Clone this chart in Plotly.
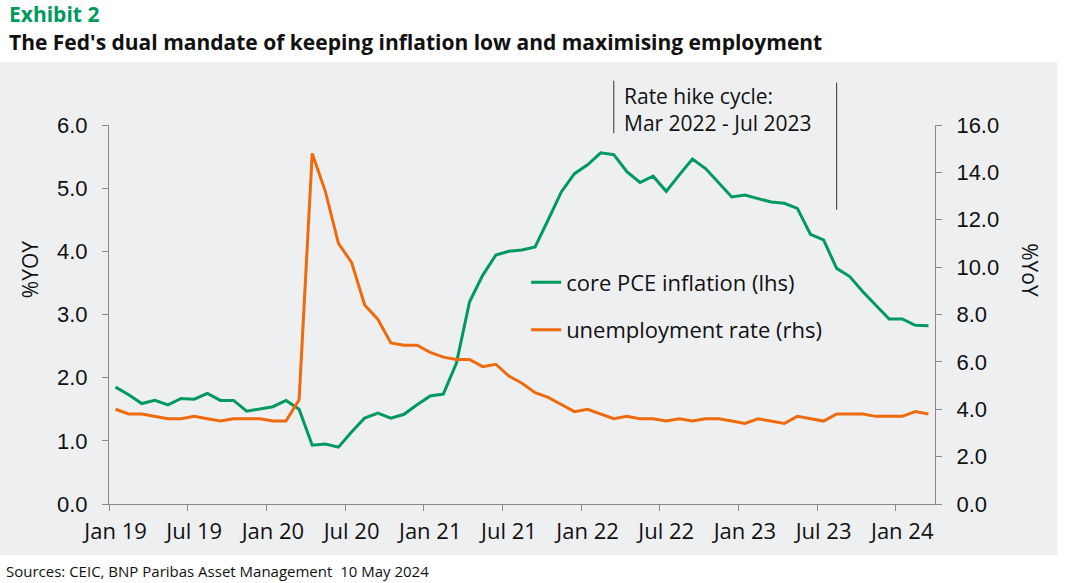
import plotly.graph_objects as go
import pandas as pd

# Monthly categories Jan 2019 - Mar 2024
months = pd.date_range("2019-01-01", "2024-03-01", freq="MS").strftime("%b %y").tolist()

core_pce = [
    1.85, 1.73, 1.59, 1.64, 1.57, 1.67, 1.66, 1.75, 1.64, 1.64, 1.47, 1.50,
    1.54, 1.64, 1.50, 0.93, 0.95, 0.90, 1.14, 1.36, 1.44, 1.36, 1.42, 1.57,
    1.71, 1.74, 2.23, 3.20, 3.62, 3.94, 4.00, 4.02, 4.07, 4.50, 4.94, 5.23,
    5.37, 5.56, 5.53, 5.26, 5.09, 5.19, 4.95, 5.21, 5.46, 5.31, 5.09, 4.86,
    4.89, 4.83, 4.78, 4.76, 4.68, 4.27, 4.18, 3.73, 3.60, 3.36, 3.15, 2.93,
    2.93, 2.83, 2.82,
]

unemployment = [
    4.0, 3.8, 3.8, 3.7, 3.6, 3.6, 3.7, 3.6, 3.5, 3.6, 3.6, 3.6,
    3.5, 3.5, 4.4, 14.8, 13.2, 11.0, 10.2, 8.4, 7.8, 6.8, 6.7, 6.7,
    6.4, 6.2, 6.1, 6.1, 5.8, 5.9, 5.4, 5.1, 4.7, 4.5, 4.2, 3.9,
    4.0, 3.8, 3.6, 3.7, 3.6, 3.6, 3.5, 3.6, 3.5, 3.6, 3.6, 3.5,
    3.4, 3.6, 3.5, 3.4, 3.7, 3.6, 3.5, 3.8, 3.8, 3.8, 3.7, 3.7,
    3.7, 3.9, 3.8,
]

tick_labels = ["Jan 19", "Jul 19", "Jan 20", "Jul 20", "Jan 21", "Jul 21",
               "Jan 22", "Jul 22", "Jan 23", "Jul 23", "Jan 24"]

GREEN = "#009A5E"
ORANGE = "#EE6A0C"
AXIS = "#8a8a8a"
PANEL = "#EEEFF1"
TXT = "Open Sans"

x = list(range(len(months)))
tick_pos = [months.index(t) for t in tick_labels]

fig = go.Figure()

fig.add_trace(go.Scatter(
    x=x, y=core_pce, name="core PCE inflation (lhs)", mode="lines",
    line=dict(color=GREEN, width=3), legendgroup="pce"
))
fig.add_trace(go.Scatter(
    x=x, y=unemployment, name="unemployment rate (rhs)", mode="lines",
    line=dict(color=ORANGE, width=3), yaxis="y2", legendgroup="unemp"
))

# grey panel behind the chart
shapes = [dict(type="rect", xref="paper", yref="paper",
               x0=-0.135, x1=1.148, y0=-0.135, y1=1.166,
               fillcolor=PANEL, line=dict(width=0), layer="below")]

# rate hike cycle markers
shapes.append(dict(type="line", xref="x", yref="paper",
                   x0=months.index("Mar 22"), x1=months.index("Mar 22"),
                   y0=0.978, y1=1.117, line=dict(color="#333333", width=1)))
shapes.append(dict(type="line", xref="x", yref="paper",
                   x0=55, x1=55, y0=0.776, y1=1.112,
                   line=dict(color="#333333", width=1)))

annotations = [
    dict(text="<b>Exhibit 2</b>", xref="paper", yref="paper", x=-0.124, y=1.293,
         xanchor="left", yanchor="middle", showarrow=False,
         font=dict(family=TXT, size=21, color=GREEN)),
    dict(text="<b>The Fed's dual mandate of keeping inflation low and maximising employment</b>",
         xref="paper", yref="paper", x=-0.124, y=1.219,
         xanchor="left", yanchor="middle", showarrow=False,
         font=dict(family=TXT, size=21, color="#111111")),
    dict(text="Sources: CEIC, BNP Paribas Asset Management  10 May 2024",
         xref="paper", yref="paper", x=-0.127, y=-0.177,
         xanchor="left", yanchor="middle", showarrow=False,
         font=dict(family=TXT, size=15, color="#111111")),
    dict(text="Rate hike cycle:<br>Mar 2022 - Jul 2023",
         xref="paper", yref="paper", x=0.621, y=1.042, align="left",
         xanchor="left", yanchor="middle", showarrow=False,
         font=dict(family=TXT, size=21, color="#111111")),
    dict(text="%YOY", xref="paper", yref="paper", x=-0.0956, y=0.617,
         textangle=-90, showarrow=False, xanchor="center", yanchor="middle",
         font=dict(family=TXT, size=21, color="#111111")),
    dict(text="%YoY", xref="paper", yref="paper", x=1.115, y=0.617,
         textangle=90, showarrow=False, xanchor="center", yanchor="middle",
         font=dict(family=TXT, size=21, color="#111111")),
]

fig.update_layout(
    width=1067, height=583, autosize=False,
    margin=dict(l=109, r=132, t=125, b=79),
    paper_bgcolor="white", plot_bgcolor="rgba(0,0,0,0)",
    shapes=shapes, annotations=annotations,
    showlegend=True,
    legend=dict(x=0.505, y=0.64, xanchor="left", yanchor="top",
                bgcolor="rgba(0,0,0,0)", tracegroupgap=16,
                font=dict(family=TXT, size=22, color="#111111")),
    xaxis=dict(
        range=[-0.5, len(months) - 0.5],
        tickmode="array", tickvals=tick_pos, ticktext=tick_labels,
        ticks="outside", ticklen=8, tickcolor="rgba(0,0,0,0)",
        minor=dict(tick0=-0.5, dtick=6, ticks="outside", ticklen=6,
                   tickcolor=AXIS, tickwidth=1),
        showline=True, linecolor=AXIS, linewidth=1,
        showgrid=False, zeroline=False,
        tickfont=dict(family=TXT, size=22, color="#111111"),
    ),
    yaxis=dict(
        range=[0, 6], dtick=1, tickformat=".1f",
        ticks="outside", ticklen=6, tickcolor=AXIS, ticklabelstandoff=10,
        showline=True, linecolor=AXIS, linewidth=1,
        showgrid=False, zeroline=False,
        tickfont=dict(family="Liberation Sans", size=22, color="#111111"),
    ),
    yaxis2=dict(
        range=[0, 16], dtick=2, tickformat=".1f", overlaying="y", side="right",
        ticks="outside", ticklen=6, tickcolor=AXIS, ticklabelstandoff=10,
        showline=True, linecolor=AXIS, linewidth=1,
        showgrid=False, zeroline=False,
        tickfont=dict(family="Liberation Sans", size=22, color="#111111"),
    ),
)

# drop the browser's default page margin so the figure fills the window
fig.write_html("out.html", config={"displayModeBar": False},
               post_script="document.body.style.margin='0px';")
